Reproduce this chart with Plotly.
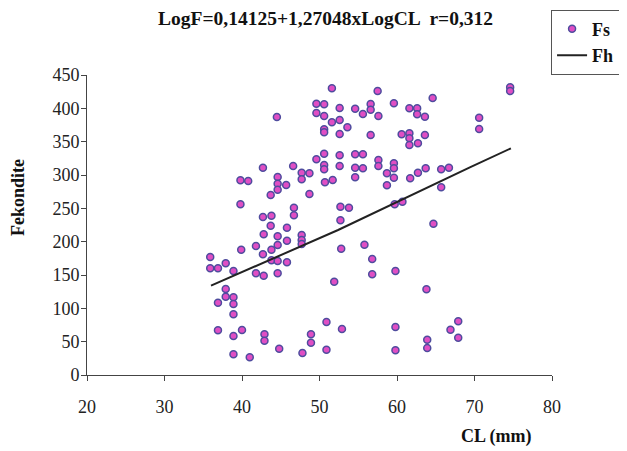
import plotly.graph_objects as go

# Observed data (Fs): carapace length (mm) vs fecundity
cl_obs = [
    44.5, 42.7, 39.8, 40.8, 44.6, 44.6, 44.6, 43.7, 39.8, 42.7, 43.8, 43.7, 42.8, 44.6, 44.6,
    41.8, 39.9, 43.8, 42.7, 35.9, 43.8, 44.6, 35.9, 36.9, 37.9, 38.9, 41.8, 42.8, 44.6, 37.9,
    37.9, 38.9, 36.9, 38.9, 38.9, 36.9, 40.0, 38.9, 42.9, 42.9, 44.8, 38.9, 41.0,
    51.6, 57.5, 64.6, 49.6, 49.6, 50.6, 50.6, 52.6, 54.6, 55.6, 56.6, 56.6, 57.6, 59.6, 61.6,
    62.6, 62.6, 63.6, 51.6, 52.6, 50.6, 50.6, 53.6, 52.6, 56.6, 60.6, 61.6, 61.6, 61.6, 62.7,
    63.6, 49.6, 50.6, 50.6, 50.6, 52.6, 52.6, 54.6, 55.6, 54.6, 55.6, 54.6, 57.6, 57.6, 59.6,
    59.6, 58.7, 59.6, 58.7, 61.7, 62.7, 63.7, 65.7, 66.7, 65.7, 46.6, 47.7, 48.7, 47.7, 50.7,
    51.7, 45.7, 48.7, 46.7, 46.7, 45.8, 52.7, 53.8, 52.7, 59.7, 60.7, 64.7,
    45.8, 47.7, 47.7, 47.7, 45.8, 52.8, 55.8, 56.8, 56.8, 59.8, 51.9, 63.8, 50.9, 52.9, 48.9,
    48.9, 47.8, 50.9, 59.8, 59.8, 63.9, 63.9, 66.9, 67.9, 67.9,
    74.6, 74.6, 70.6, 70.6,
]
fec_obs = [
    387, 311, 292, 291, 297, 287, 278, 270, 256, 237, 239, 224, 211, 208, 195,
    193.5, 188, 188, 181, 177, 172, 171, 160, 160, 167.5, 156, 152.5, 149, 152.5, 129,
    117.5, 116.5, 108.5, 106.5, 91, 67, 67.5, 58.5, 61, 51.5, 39.5, 31, 26.5,
    430, 426, 415.5, 407, 393, 406, 388.5, 400.5, 399.5, 391.5, 406.5, 398, 388.5, 407.5, 400,
    400, 391, 387.5, 379, 382.5, 368.5, 364, 371.5, 361.5, 360, 361, 362.5, 355, 345, 347.5,
    360, 323.5, 332, 315, 308.5, 329.5, 313.5, 331, 331, 311, 310, 296.5, 322.5, 313.5, 317.5,
    310, 302.5, 296, 284.5, 295, 303.5, 310, 308.5, 311, 281.5, 313.5, 303.5, 302.5, 293.5, 289,
    292.5, 285, 271.5, 251, 239.5, 221, 252.5, 251, 232, 256, 260, 227,
    201.5, 210, 202.5, 196.5, 169, 189.5, 195.5, 174, 151, 156, 140, 128.5, 79.5, 69, 61,
    48.5, 33, 38, 72, 37, 53, 40.5, 68, 80.5, 56,
    431.5, 426, 386, 369,
]

# Fitted curve (Fh)
cl_fit = [36.0, 52.4, 69.4, 74.7]
fec_fit = [134, 217.5, 311.5, 340]

title_text = "LogF=0,14125+1,27048xLogCL  r=0,312"
x_title = "CL (mm)"
y_title = "Fekondite"
x_ticks = [20, 30, 40, 50, 60, 70, 80]
y_ticks = [0, 50, 100, 150, 200, 250, 300, 350, 400, 450]

serif = "Liberation Serif"

fig = go.Figure()
fig.add_trace(go.Scatter(
    x=cl_obs, y=fec_obs, mode="markers", name="Fs",
    marker=dict(size=7, color="#e04ec4", line=dict(color="#4f4c9e", width=1.5)),
))
fig.add_trace(go.Scatter(
    x=cl_fit, y=fec_fit, mode="lines", name="Fh",
    line=dict(color="#222222", width=2),
))

fig.update_layout(
    width=619, height=443,
    margin=dict(l=79, r=75, t=67, b=76, autoexpand=False),
    paper_bgcolor="white", plot_bgcolor="white",
    font=dict(family=serif, color="#222222", size=18),
    showlegend=True,
    legend=dict(
        x=0.998, y=1.218, xanchor="left", yanchor="top",
        bgcolor="white", bordercolor="#555555", borderwidth=1,
        font=dict(family=serif, size=18, color="#111111", weight="bold"),
        itemwidth=30, tracegroupgap=2,
    ),
    annotations=[
        dict(text="<b>" + title_text + "</b>", xref="paper", yref="paper",
             x=(325 - 87) / 465, y=(375 - 18) / 300, xanchor="center", yanchor="middle",
             showarrow=False, font=dict(family=serif, size=19.5, color="#111111")),
        dict(text="<b>" + x_title + "</b>", xref="paper", yref="paper",
             x=(496 - 87) / 465, y=(375 - 436) / 300, xanchor="center", yanchor="middle",
             showarrow=False, font=dict(family=serif, size=18, color="#111111")),
        dict(text="<b>" + y_title + "</b>", xref="paper", yref="paper",
             x=(18 - 87) / 465, y=(375 - 198) / 300, xanchor="center", yanchor="middle",
             textangle=-90,
             showarrow=False, font=dict(family=serif, size=18, color="#111111")),
    ],
)
fig.update_xaxes(
    range=[20, 80], tickvals=x_ticks, showgrid=False, zeroline=False,
    showline=True, linecolor="#444444", linewidth=1,
    ticks="outside", ticklen=5, tickcolor="#444444",
    ticklabelstandoff=10, tickfont=dict(family=serif, size=18, color="#222222"),
)
fig.update_yaxes(
    range=[0, 450], tickvals=y_ticks, showgrid=False, zeroline=False,
    showline=True, linecolor="#444444", linewidth=1,
    ticks="outside", ticklen=5, tickcolor="#444444",
    ticklabelstandoff=-2, tickfont=dict(family=serif, size=18, color="#222222"),
)

fig.write_html("out.html")
